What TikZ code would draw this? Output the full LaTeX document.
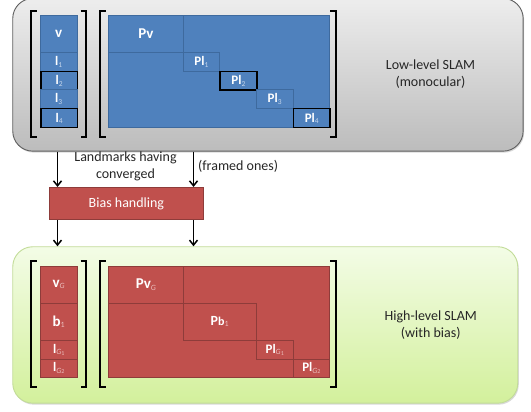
\documentclass[tikz,border=0pt]{standalone}
\usepackage{fontspec}
\setmainfont{Carlito}
\usetikzlibrary{arrows.meta,shadows}
\definecolor{bfill}{HTML}{4F81BD}
\definecolor{bedge}{HTML}{3E6A9E}
\definecolor{rfill}{HTML}{C0504D}
\definecolor{redge}{HTML}{8E3C3A}
\definecolor{bsubc}{HTML}{C6D6EC}
\definecolor{rsubc}{HTML}{EBBFBE}
\definecolor{grayedge}{HTML}{5E5E5E}
\definecolor{graytop}{HTML}{EDEDED}
\definecolor{graybot}{HTML}{BCBCBC}
\definecolor{greentop}{HTML}{F3FCE6}
\definecolor{greenbot}{HTML}{D3F09C}
\definecolor{greenedge}{HTML}{C2DC98}
\newcommand\usub[1]{\raisebox{-1.2pt}{\fontsize{7.5}{8}\selectfont\mdseries\color{bsubc}#1}}
\newcommand\rsub[1]{\raisebox{-1.2pt}{\fontsize{8}{8}\selectfont\mdseries\color{rsubc}#1}}
\newcommand\rsubb[1]{\raisebox{-1.2pt}{\fontsize{8}{8}\selectfont\mdseries\color{rsubc}\textit{G}\raisebox{-0.8pt}{\fontsize{6}{6}\selectfont #1}}}
\begin{document}
\begin{tikzpicture}[x=1pt,y=-1pt,
  panel/.style={rounded corners=20pt, line width=0.9pt, anchor=north west, inner sep=0pt},
  cell/.style={anchor=north west, inner sep=0pt, line width=0.7pt, text=white, font=\fontsize{13}{15}\selectfont\bfseries},
  bcell/.style={cell, fill=bfill, draw=bedge},
  rcell/.style={cell, fill=rfill, draw=redge},
  big/.style={font=\fontsize{15}{17}\selectfont\bfseries},
  framed/.style={draw=black, line width=1.5pt},
  brk/.style={line width=2pt, line join=miter},
  arr/.style={-{Straight Barb[length=5pt,width=8pt]}, line width=1.5pt},
  txt/.style={font=\fontsize{14}{17}\selectfont, align=center, text=black!85, inner sep=0pt}
]
\useasboundingbox (0,0) rectangle (531,412);

% panels
\node[panel, draw=grayedge, top color=graytop, bottom color=graybot,
      minimum width=510.4pt, minimum height=152.7pt,
      drop shadow={shadow xshift=1pt,shadow yshift=-1.5pt,opacity=0.3}] (low) at (12.3,-2) {};
\node[panel, draw=greenedge, top color=greentop, bottom color=greenbot,
      minimum width=505pt, minimum height=156.4pt,
      drop shadow={shadow xshift=1pt,shadow yshift=-1.5pt,opacity=0.3}] (high) at (12.3,246.3) {};

% upper vector
\node[bcell, big, minimum width=36.7pt, minimum height=37.2pt] (v) at (40,15) {v};
\node[bcell, minimum width=36.7pt, minimum height=18.6pt] (l1) at (40,52.2) {l\usub{1}};
\node[bcell, framed, minimum width=36.7pt, minimum height=18.6pt] (l2) at (40,70.8) {l\usub{2}};
\node[bcell, minimum width=36.7pt, minimum height=18.6pt] (l3) at (40,89.4) {l\usub{3}};
\node[bcell, framed, minimum width=36.7pt, minimum height=18.6pt] (l4) at (40,108) {l\usub{4}};

% upper matrix
\node[bcell, minimum width=221pt, minimum height=111.6pt] (P) at (108.3,15) {};
\node[bcell, big, minimum width=74.4pt, minimum height=37.2pt] (Pv) at (108.3,15) {Pv};
\node[bcell, minimum width=36.6pt, minimum height=18.6pt] (Pl1) at (182.7,52.2) {Pl\usub{1}};
\node[bcell, framed, minimum width=36.7pt, minimum height=18.6pt] (Pl2) at (219.3,70.8) {Pl\usub{2}};
\node[bcell, minimum width=36.7pt, minimum height=18.6pt] (Pl3) at (256,89.4) {Pl\usub{3}};
\node[bcell, framed, minimum width=36.6pt, minimum height=18.6pt] (Pl4) at (292.7,108) {Pl\usub{4}};

% upper brackets
\draw[brk] (36.7,10.7) -| (30.7,137.3) -- (36.7,137.3);
\draw[brk] (80.5,10.7) -| (86,137.3) -- (80.5,137.3);
\draw[brk] (105.5,10.7) -| (100,137.3) -- (105.5,137.3);
\draw[brk] (330,10.7) -| (335.5,137.3) -- (330,137.3);

\node[txt] (lowtxt) at (430.5,74) {Low-level SLAM\\(monocular)};

% lower vector
\node[rcell, big, minimum width=36.7pt, minimum height=37.2pt] (vG) at (40,265.7) {v\rsub{\textit{G}}};
\node[rcell, big, minimum width=36.7pt, minimum height=37.2pt] (b1) at (40,302.9) {b\rsub{1}};
\node[rcell, minimum width=36.7pt, minimum height=18.6pt] (lG1) at (40,340.1) {l\rsubb{1}};
\node[rcell, minimum width=36.7pt, minimum height=18.6pt] (lG2) at (40,358.7) {l\rsubb{2}};

% lower matrix
\node[rcell, minimum width=221pt, minimum height=111.6pt] (PG) at (108.3,265.7) {};
\node[rcell, big, minimum width=74.4pt, minimum height=37.2pt] (PvG) at (108.3,265.7) {Pv\rsub{\textit{G}}};
\node[rcell, minimum width=73.3pt, minimum height=37.2pt, font=\fontsize{14}{16}\selectfont\bfseries] (Pb1) at (182.7,302.9) {P{\fontsize{12}{14}\selectfont b}\rsub{1}};
\node[rcell, minimum width=36.7pt, minimum height=18.6pt] (PlG1) at (256,340.1) {Pl\rsubb{1}};
\node[rcell, minimum width=36.6pt, minimum height=18.6pt] (PlG2) at (292.7,358.7) {Pl\rsubb{2}};

% lower brackets
\draw[brk] (36.7,260.7) -| (30.7,386.7) -- (36.7,386.7);
\draw[brk] (80.5,260.7) -| (86,386.7) -- (80.5,386.7);
\draw[brk] (105.5,260.7) -| (100,386.7) -- (105.5,386.7);
\draw[brk] (330,260.7) -| (335.5,386.7) -- (330,386.7);

\node[txt] (hightxt) at (430.8,324.7) {High-level SLAM\\(with bias)};

% bias handling
\node[anchor=north west, fill=rfill, draw=redge, line width=0.8pt, minimum width=154pt,
      minimum height=32.3pt, inner sep=0pt, text=white, font=\fontsize{14}{17}\selectfont] (bias) at (49,187) {Bias handling};

\coordinate (a1) at (57.5,0);
\coordinate (a2) at (193.5,0);
\draw[arr] (low.south -| a1) -- (bias.north -| a1);
\draw[arr] (low.south -| a2) -- (bias.north -| a2);
\draw[arr] (bias.south -| a1) -- (high.north -| a1);
\draw[arr] (bias.south -| a2) -- (high.north -| a2);

\node[txt] (lmk) at (125.5,166.5) {Landmarks having\\converged};
\node[txt, anchor=west] (fr) at (198,166.7) {(framed ones)};
\end{tikzpicture}
\end{document}
